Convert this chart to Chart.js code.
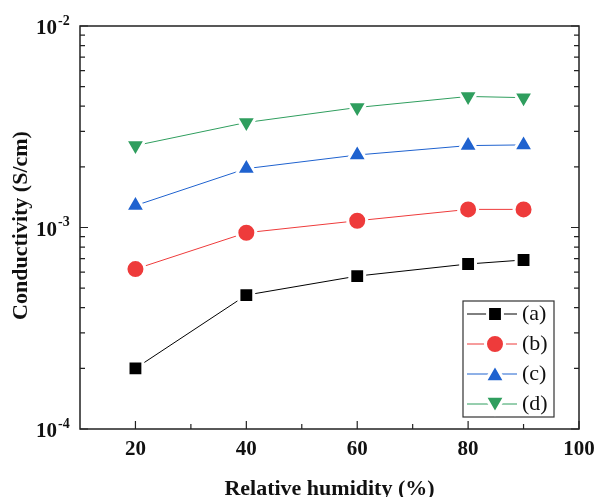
<!DOCTYPE html>
<html><head><meta charset="utf-8">
<script src="https://cdn.jsdelivr.net/npm/chart.js@4/dist/chart.umd.min.js"></script>
<style>html,body{margin:0;padding:0;background:#fff}#wrap{width:596px;height:497px;position:relative}</style>
</head><body><div id="wrap"><canvas id="c" width="596" height="497"></canvas></div>
<script>
const humidity=[20,40,60,80,90];
const seriesA=[2.0e-4,4.62e-4,5.74e-4,6.59e-4,6.9e-4];
const seriesB=[6.22e-4,9.42e-4,1.08e-3,1.23e-3,1.23e-3];
const seriesC=[1.285e-3,1.96e-3,2.29e-3,2.55e-3,2.57e-3];
const seriesD=[2.55e-3,3.32e-3,3.94e-3,4.47e-3,4.41e-3];
const seriesLabels=['(a)','(b)','(c)','(d)'];
const seriesColors=['#000000','#EE3B3B','#1F62CF','#2F9E5E'];
const seriesStyles=['rect','circle','triangle','triangle'];
const seriesRotations=[0,0,0,180];
const seriesRadius=[10.5,9.5,11.5,11.5];
const xTicks=[20,40,60,80,100];
const xMinorTicks=[30,50,70,90];
const yTicks=[1e-4,1e-3,1e-2];
const yExponents=['-4','-3','-2'];
const xTitle='Relative humidity (%)';
const yTitle='Conductivity (S/cm)';

const yMinorTicks=[];
for(let d=0; d<yTicks.length-1; d++){for(let m=2;m<=9;m++){yMinorTicks.push(m*yTicks[d]);}}

const allSeries=[seriesA,seriesB,seriesC,seriesD];
const datasets=allSeries.map((s,i)=>({
  label:seriesLabels[i],
  data:humidity.map((h,j)=>({x:h,y:s[j]})),
  borderColor:seriesColors[i],
  backgroundColor:seriesColors[i],
  borderWidth:1,
  pointStyle:seriesStyles[i],
  pointRotation:seriesRotations[i],
  pointRadius:seriesRadius[i],
  pointHoverRadius:seriesRadius[i],
  pointBorderColor:'#ffffff',
  pointBorderWidth:3,
  pointBackgroundColor:seriesColors[i],
  tension:0,
  clip:false
}));

const SERIF='"Liberation Serif","Times New Roman",serif';

const decor={
  id:'decor',
  afterDraw(chart){
    const ctx=chart.ctx, ca=chart.chartArea;
    const xs=chart.scales.x, ys=chart.scales.y;
    ctx.save();
    // frame
    ctx.strokeStyle='#222';
    ctx.lineWidth=1.5;
    ctx.strokeRect(ca.left,ca.top,ca.right-ca.left,ca.bottom-ca.top);
    ctx.lineWidth=1.2;
    ctx.beginPath();
    xTicks.forEach(v=>{const p=xs.getPixelForValue(v);ctx.moveTo(p,ca.bottom);ctx.lineTo(p,ca.bottom-8);});
    xMinorTicks.forEach(v=>{const p=xs.getPixelForValue(v);ctx.moveTo(p,ca.bottom);ctx.lineTo(p,ca.bottom-5);});
    yTicks.forEach(v=>{const p=ys.getPixelForValue(v);
      ctx.moveTo(ca.left,p);ctx.lineTo(ca.left+8,p);
      ctx.moveTo(ca.right,p);ctx.lineTo(ca.right-8,p);});
    yMinorTicks.forEach(v=>{const p=ys.getPixelForValue(v);
      ctx.moveTo(ca.left,p);ctx.lineTo(ca.left+5,p);
      ctx.moveTo(ca.right,p);ctx.lineTo(ca.right-5,p);});
    ctx.stroke();
    // x tick labels
    ctx.fillStyle='#111';
    ctx.font='bold 21px '+SERIF;
    ctx.textAlign='center';ctx.textBaseline='middle';
    xTicks.forEach(v=>{ctx.fillText(String(v),xs.getPixelForValue(v),ca.bottom+21);});
    // y tick labels with superscripts
    yTicks.forEach((v,i)=>{
      const p=ys.getPixelForValue(v);
      ctx.font='bold 21px '+SERIF;
      ctx.textAlign='right';ctx.textBaseline='middle';
      ctx.fillText('10',ca.left-23,p+3);
      ctx.font='bold 14px '+SERIF;
      ctx.textAlign='left';
      ctx.fillText(yExponents[i],ca.left-22,p-5);
    });
    // titles
    ctx.font='bold 22px '+SERIF;
    ctx.textAlign='center';ctx.textBaseline='middle';
    ctx.fillText(xTitle,(ca.left+ca.right)/2,ca.bottom+60);
    ctx.save();
    ctx.translate(21,(ca.top+ca.bottom)/2-2);
    ctx.rotate(-Math.PI/2);
    ctx.fillText(yTitle,0,0);
    ctx.restore();
    // legend
    const bx1=ca.right-116, bx2=ca.right-25, by2=ca.bottom-12, by1=by2-116;
    ctx.fillStyle='#fff';
    ctx.fillRect(bx1,by1,bx2-bx1,by2-by1);
    ctx.strokeStyle='#333';ctx.lineWidth=1.2;
    ctx.strokeRect(bx1,by1,bx2-bx1,by2-by1);
    chart.data.datasets.forEach((ds,i)=>{
      const y=by1+13+30*i;
      const lx1=bx1+4, lx2=bx1+54, mx=bx1+32;
      ctx.strokeStyle=ds.borderColor;ctx.lineWidth=1;
      ctx.beginPath();ctx.moveTo(lx1,y);ctx.lineTo(lx2,y);ctx.stroke();
      ctx.fillStyle=ds.backgroundColor;ctx.strokeStyle='#fff';ctx.lineWidth=3;
      Chart.helpers.drawPoint(ctx,{pointStyle:ds.pointStyle,rotation:ds.pointRotation,radius:ds.pointRadius,borderWidth:3},mx,y+(ds.pointStyle==='triangle'?(ds.pointRotation?-2:2):0));
      ctx.fillStyle='#111';
      ctx.font='22px '+SERIF;ctx.textAlign='left';ctx.textBaseline='middle';
      ctx.fillText(ds.label,bx1+59,y);
    });
    ctx.restore();
  }
};

new Chart(document.getElementById('c'),{
  type:'line',
  data:{datasets},
  options:{
    responsive:false,
    animation:false,
    layout:{padding:{left:80,right:17,top:26,bottom:68}},
    plugins:{legend:{display:false},tooltip:{enabled:false}},
    scales:{
      x:{type:'linear',min:10,max:100,display:false},
      y:{type:'logarithmic',min:1e-4,max:1e-2,display:false}
    }
  },
  plugins:[decor]
});
</script>
</body></html>
